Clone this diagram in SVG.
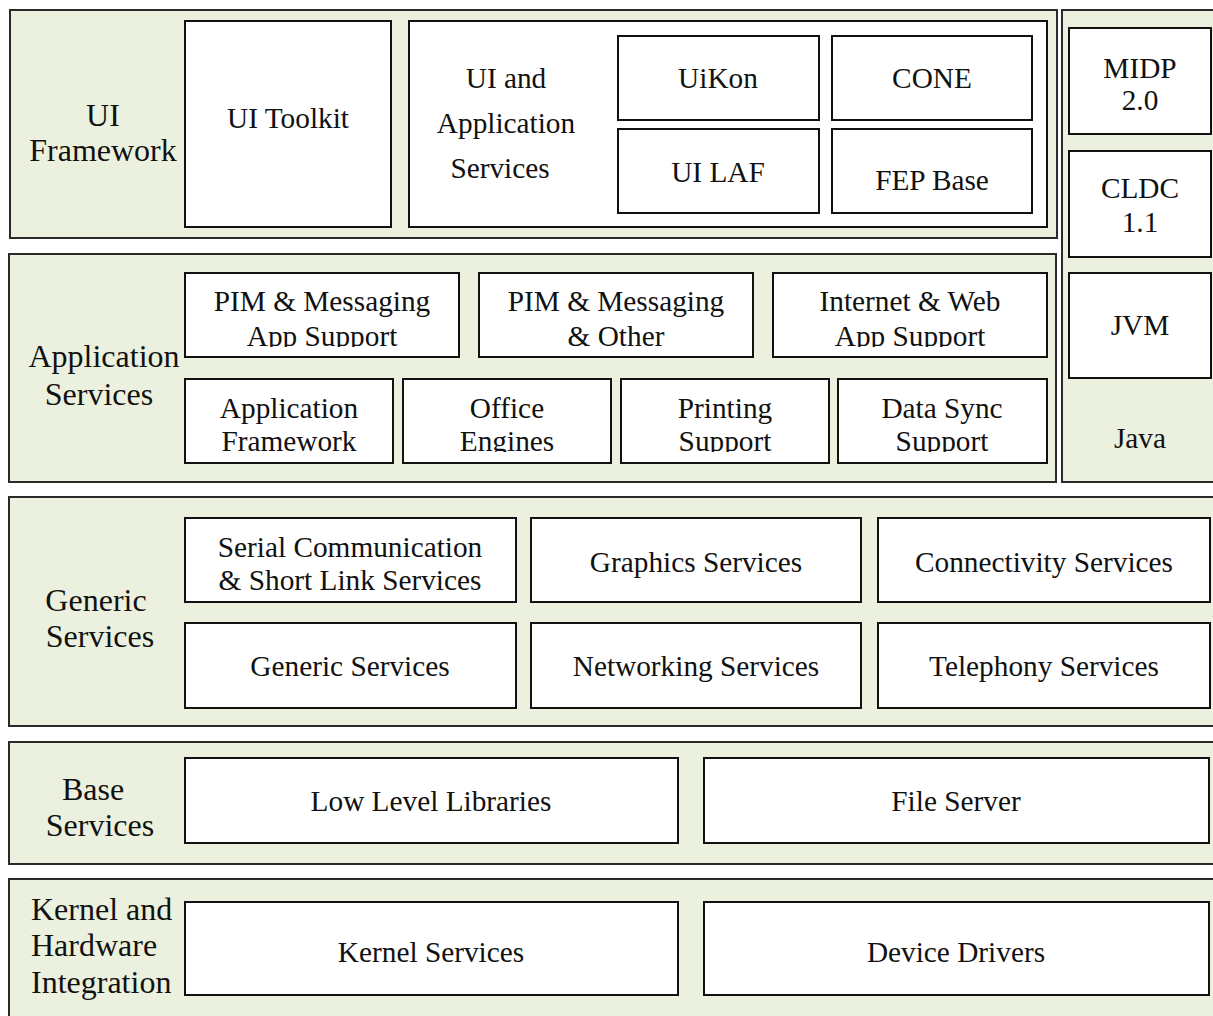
<svg xmlns="http://www.w3.org/2000/svg" width="1213" height="1016" viewBox="0 0 1213 1016">
<style>
.layer{fill:#EBF1DE;stroke:#2a2a2a;stroke-width:2}
.box{fill:#fff;stroke:#111;stroke-width:2}
text{font-family:"Liberation Serif","Times New Roman",serif;fill:#111}
.t{font-size:29.3px;text-anchor:middle}
.l{font-size:32px;text-anchor:middle}
</style>
<defs>
<clipPath id="c1"><rect x="185" y="273" width="274" height="74"/></clipPath>
<clipPath id="c2"><rect x="479" y="273" width="274" height="74"/></clipPath>
<clipPath id="c3"><rect x="773" y="273" width="274" height="74"/></clipPath>
<clipPath id="c4"><rect x="185" y="379" width="208" height="73"/></clipPath>
<clipPath id="c5"><rect x="403" y="379" width="208" height="73"/></clipPath>
<clipPath id="c6"><rect x="621" y="379" width="208" height="73"/></clipPath>
<clipPath id="c7"><rect x="838" y="379" width="209" height="73"/></clipPath>
</defs>
<rect width="1213" height="1016" fill="#fff"/>

<g id="connectors"></g>

<g id="ui-framework">
<rect class="layer" x="10" y="10" width="1047" height="228"/>
<text class="l" x="103" y="126">UI</text>
<text class="l" x="103" y="161">Framework</text>
</g>
<g id="ui-toolkit">
<rect class="box" x="185" y="21" width="206" height="206"/>
<text class="t" x="288" y="128">UI Toolkit</text>
</g>
<g id="ui-app-services">
<rect class="box" x="409" y="21" width="638" height="206"/>
<text class="t" x="506" y="88">UI and</text>
<text class="t" x="506" y="133">Application</text>
<text class="t" x="500" y="178">Services</text>
</g>
<g id="uikon"><rect class="box" x="618" y="36" width="201" height="84"/><text class="t" x="718" y="88">UiKon</text></g>
<g id="cone"><rect class="box" x="832" y="36" width="200" height="84"/><text class="t" x="932" y="88">CONE</text></g>
<g id="ui-laf"><rect class="box" x="618" y="129" width="201" height="84"/><text class="t" x="718" y="182">UI LAF</text></g>
<g id="fep-base"><rect class="box" x="832" y="129" width="200" height="84"/><text class="t" x="932" y="190">FEP Base</text></g>

<g id="java">
<rect class="layer" x="1062" y="10" width="170" height="472"/>
<text class="t" x="1140" y="448">Java</text>
</g>
<g id="midp"><rect class="box" x="1069" y="28" width="142" height="106"/><text class="t" x="1140" y="78">MIDP</text><text class="t" x="1140" y="110">2.0</text></g>
<g id="cldc"><rect class="box" x="1069" y="151" width="142" height="106"/><text class="t" x="1140" y="198">CLDC</text><text class="t" x="1140" y="232">1.1</text></g>
<g id="jvm"><rect class="box" x="1069" y="273" width="142" height="105"/><text class="t" x="1140" y="335">JVM</text></g>

<g id="application-services">
<rect class="layer" x="9" y="254" width="1047" height="228"/>
<text class="l" x="104" y="367">Application</text>
<text class="l" x="99" y="405">Services</text>
</g>
<g id="pim-app"><rect class="box" x="185" y="273" width="274" height="84"/><g clip-path="url(#c1)"><text class="t" x="322" y="311">PIM &amp; Messaging</text><text class="t" x="322" y="346">App Support</text></g></g>
<g id="pim-other"><rect class="box" x="479" y="273" width="274" height="84"/><g clip-path="url(#c2)"><text class="t" x="616" y="311">PIM &amp; Messaging</text><text class="t" x="616" y="346">&amp; Other</text></g></g>
<g id="internet-web"><rect class="box" x="773" y="273" width="274" height="84"/><g clip-path="url(#c3)"><text class="t" x="910" y="311">Internet &amp; Web</text><text class="t" x="910" y="346">App Support</text></g></g>
<g id="app-framework"><rect class="box" x="185" y="379" width="208" height="84"/><g clip-path="url(#c4)"><text class="t" x="289" y="418">Application</text><text class="t" x="289" y="451">Framework</text></g></g>
<g id="office-engines"><rect class="box" x="403" y="379" width="208" height="84"/><g clip-path="url(#c5)"><text class="t" x="507" y="418">Office</text><text class="t" x="507" y="451">Engines</text></g></g>
<g id="printing"><rect class="box" x="621" y="379" width="208" height="84"/><g clip-path="url(#c6)"><text class="t" x="725" y="418">Printing</text><text class="t" x="725" y="451">Support</text></g></g>
<g id="data-sync"><rect class="box" x="838" y="379" width="209" height="84"/><g clip-path="url(#c7)"><text class="t" x="942" y="418">Data Sync</text><text class="t" x="942" y="451">Support</text></g></g>

<g id="generic-services-layer">
<rect class="layer" x="9" y="497" width="1230" height="229"/>
<text class="l" x="96" y="611">Generic</text>
<text class="l" x="100" y="647">Services</text>
</g>
<g id="serial"><rect class="box" x="185" y="518" width="331" height="84"/><text class="t" x="350" y="557">Serial Communication</text><text class="t" x="350" y="590">&amp; Short Link Services</text></g>
<g id="graphics"><rect class="box" x="531" y="518" width="330" height="84"/><text class="t" x="696" y="572">Graphics Services</text></g>
<g id="connectivity"><rect class="box" x="878" y="518" width="332" height="84"/><text class="t" x="1044" y="572">Connectivity Services</text></g>
<g id="generic"><rect class="box" x="185" y="623" width="331" height="85"/><text class="t" x="350" y="676">Generic Services</text></g>
<g id="networking"><rect class="box" x="531" y="623" width="330" height="85"/><text class="t" x="696" y="676">Networking Services</text></g>
<g id="telephony"><rect class="box" x="878" y="623" width="332" height="85"/><text class="t" x="1044" y="676">Telephony Services</text></g>

<g id="base-services">
<rect class="layer" x="9" y="742" width="1230" height="122"/>
<text class="l" x="93" y="800">Base</text>
<text class="l" x="100" y="836">Services</text>
</g>
<g id="low-level"><rect class="box" x="185" y="758" width="493" height="85"/><text class="t" x="431" y="811">Low Level Libraries</text></g>
<g id="file-server"><rect class="box" x="704" y="758" width="505" height="85"/><text class="t" x="956" y="811">File Server</text></g>

<g id="kernel-layer">
<rect class="layer" x="9" y="879" width="1230" height="160"/>
<text class="l" x="31" y="920" style="text-anchor:start">Kernel and</text>
<text class="l" x="31" y="956" style="text-anchor:start">Hardware</text>
<text class="l" x="31" y="993" style="text-anchor:start">Integration</text>
</g>
<g id="kernel-services"><rect class="box" x="185" y="902" width="493" height="93"/><text class="t" x="431" y="962">Kernel Services</text></g>
<g id="device-drivers"><rect class="box" x="704" y="902" width="505" height="93"/><text class="t" x="956" y="962">Device Drivers</text></g>
</svg>
